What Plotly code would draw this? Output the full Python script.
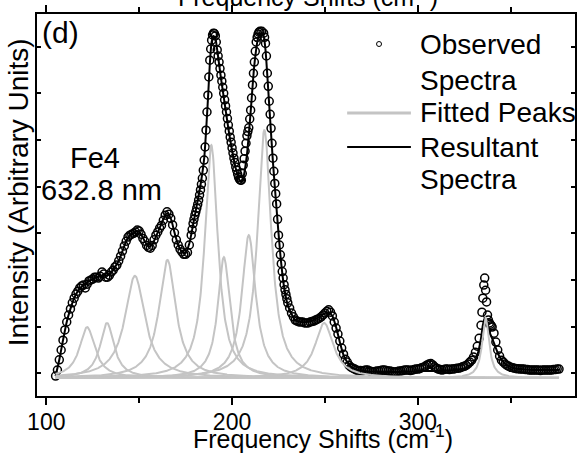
import plotly.graph_objects as go
import numpy as np

# ---------------- data ----------------
# Observed spectrum: frequency (cm-1) and intensity (arbitrary units)
obs_x = [105,106,107,108,109,110,111,112,113,114,115,116,117,118,119,120,121,122,123,124,
         125,126,127,128,129,130,131,132,133,134,135,136,137,138,139,140,141,142,143,144,
         145,146,147,148,149,150,151,152,153,154,155,156,157,158,159,160,161,162,163,164,
         165,166,167,168,169,170,171,172,173,174,175,176,177,
         178,178.5,179,179.5,180,180.5,181,181.5,182,182.5,183,183.5,184,184.5,185,185.5,
         186,186.5,187,187.5,188,188.5,189,189.5,190,190.5,191,191.5,192,192.5,193,193.5,
         194,194.5,195,195.5,196,196.5,197,197.5,198,198.5,199,199.5,200,200.5,201,201.5,
         202,202.5,203,203.5,204,204.5,205,205.5,206,206.5,207,207.5,208,208.5,209,209.5,
         210,210.5,211,211.5,212,212.5,213,213.5,214,214.5,215,216,217,217.5,218,218.5,
         219,219.5,220,220.5,221,221.5,222,222.5,223,223.5,224,224.5,225,225.5,226,226.5,
         227,227.5,228,228.5,229,229.5,230,231,232,233,234,235,
         236,237,238,239,240,241,242,243,244,245,246,247,248,249,250,251,252,253,254,255,
         256,257,258,259,260,261,262,263,264,265,266,267,268,269,270,271,272,273,274,275,
         276,277,278,279,280,281,282,283,284,285,286,287,288,289,290,291,292,293,294,295,
         296,297,298,299,300,301,302,303,304,305,306,307,308,309,310,311,312,313,314,315,
         316,317,318,319,320,321,322,323,324,325,326,327,328,329,330,331,332,333,334,334.5,
         335,335.5,336,336.5,337,337.5,338,338.5,339,339.5,340,341,342,343,344,345,346,347,
         348,349,350,351,352,353,354,355,356,357,358,359,360,361,362,363,364,365,366,367,
         368,369,370,371,372,373,374,375,376]
obs_y = [-0.06,0.07,0.29,0.50,0.71,0.93,1.10,1.25,1.38,1.51,1.61,1.70,1.76,1.83,1.87,1.89,1.83,1.91,1.98,2.00,
         2.02,2.06,2.06,2.04,2.08,2.17,2.13,2.06,2.06,2.10,2.17,2.21,2.28,2.32,2.41,2.51,2.62,2.73,2.83,2.92,
         2.96,2.98,3.00,3.03,3.07,3.05,2.98,2.89,2.83,2.74,2.70,2.68,2.74,2.86,2.96,3.03,3.11,3.17,3.28,3.39,
         3.46,3.41,3.32,3.18,3.01,2.86,2.75,2.66,2.60,2.55,2.55,2.59,2.75,
         2.96,3.08,3.21,3.30,3.39,3.46,3.54,3.62,3.71,3.82,3.93,4.05,4.18,4.35,4.57,4.85,
         5.21,5.60,5.96,6.35,6.71,6.95,7.14,7.25,7.29,7.28,7.23,7.10,6.93,6.80,6.67,6.53,
         6.39,6.26,6.13,6.00,5.86,5.73,5.60,5.46,5.32,5.19,5.06,4.95,4.83,4.72,4.61,4.52,
         4.42,4.35,4.27,4.20,4.16,4.14,4.14,4.28,4.46,4.60,4.76,4.93,5.09,5.18,5.26,5.45,
         5.64,5.90,6.18,6.43,6.67,6.90,7.10,7.20,7.27,7.31,7.33,7.33,7.29,7.20,7.07,6.80,
         6.43,6.15,5.83,5.55,5.25,4.93,4.61,4.33,4.07,3.85,3.63,3.30,2.96,2.75,2.54,2.35,
         2.18,2.04,1.90,1.79,1.69,1.60,1.51,1.40,1.29,1.21,1.14,1.12,
         1.10,1.10,1.10,1.08,1.08,1.08,1.10,1.11,1.12,1.14,1.16,1.18,1.21,1.25,1.29,1.33,1.36,1.31,1.23,1.10,
         0.97,0.84,0.69,0.54,0.41,0.30,0.24,0.17,0.13,0.11,0.09,0.07,0.05,0.06,0.05,0.06,0.07,0.07,0.05,0.04,
         0.03,0.04,0.05,0.05,0.06,0.07,0.07,0.06,0.05,0.05,0.04,0.03,0.03,0.04,0.05,0.05,0.06,0.07,0.07,0.07,
         0.06,0.07,0.08,0.09,0.09,0.10,0.12,0.13,0.15,0.18,0.20,0.21,0.18,0.14,0.11,0.09,0.08,0.07,0.08,0.09,
         0.09,0.08,0.09,0.09,0.10,0.11,0.11,0.12,0.14,0.15,0.17,0.20,0.24,0.28,0.35,0.45,0.58,0.75,1.03,1.31,
         1.61,1.89,2.04,1.78,1.53,1.25,1.14,1.08,1.05,1.02,0.99,0.86,0.67,0.50,0.37,0.28,0.24,0.20,
         0.17,0.15,0.13,0.12,0.11,0.10,0.10,0.09,0.09,0.09,0.08,0.08,0.07,0.07,0.07,0.07,0.07,0.07,0.06,0.07,
         0.07,0.07,0.07,0.07,0.07,0.08,0.08,0.09,0.09]

# Resultant (fitted sum) spectrum
res_x = [105,107,109,111,113,115,117,119,121,123,125,127,129,131,133,135,137,139,141,143,
         145,147,149,151,153,155,157,159,161,163,165,167,169,171,173,175,177,179,181,183,
         185,187,188,189,190,191,192,194,196,198,200,202,204,205,206,208,210,212,214,215,
         216,217,218,220,222,224,226,228,230,232,234,237,240,244,248,250,252,254,256,258,
         260,262,265,270,280,290,300,310,320,326,330,332,334,335,336,337,338,339,340,342,
         344,347,350,355,365,376]
res_y = [-0.06,0.29,0.71,1.10,1.38,1.61,1.76,1.85,1.91,1.98,2.02,2.06,2.08,2.10,2.10,2.17,2.28,2.41,2.62,2.83,
         2.96,3.00,3.05,2.98,2.83,2.72,2.76,2.93,3.11,3.30,3.43,3.32,3.02,2.75,2.60,2.58,2.78,3.18,3.60,4.03,
         4.61,5.86,6.61,7.10,7.23,7.18,6.93,6.33,5.79,5.25,4.78,4.39,4.14,4.10,4.18,4.68,5.60,6.61,7.18,7.27,
         7.29,7.23,6.93,5.75,4.53,3.50,2.54,1.85,1.46,1.27,1.14,1.10,1.10,1.14,1.23,1.29,1.31,1.23,0.99,0.67,
         0.39,0.24,0.11,0.05,0.03,0.03,0.05,0.05,0.07,0.11,0.24,0.39,0.75,1.03,1.18,1.14,0.97,0.84,0.75,0.54,
         0.35,0.20,0.13,0.09,0.07,0.07]

# Fitted Lorentzian peaks: centre (cm-1), height, FWHM (cm-1)
peak_centers = [122.0, 132.7, 147.7, 165.2, 188.8, 195.6, 209.0, 217.4, 249.6, 336.5]
peak_heights = [1.09, 1.18, 2.19, 2.53, 4.99, 2.59, 3.06, 5.31, 1.18, 1.29]
peak_fwhm    = [10.0, 9.0, 13.0, 11.0, 8.6, 8.0, 9.0, 9.0, 12.0, 4.5]
peak_base = -0.10
fit_x = np.linspace(105, 376, 1200)

x_ticks = [100, 200, 300]

# ---------------- figure ----------------
FONT = "Liberation Sans, Arial, sans-serif"
GRAY = "#c4c4c4"

fig = go.Figure()

fig.add_trace(go.Scatter(
    x=obs_x, y=obs_y, mode="markers",
    marker=dict(symbol="circle-open", size=8, color="black", line=dict(width=1.5, color="black")),
    showlegend=False, hoverinfo="skip"))

fig.add_trace(go.Scatter(
    x=res_x, y=res_y, mode="lines", line=dict(color="black", width=2, shape="spline", smoothing=0.6),
    showlegend=False, hoverinfo="skip"))

for c, h, w in zip(peak_centers, peak_heights, peak_fwhm):
    yy = peak_base + h / (1 + ((fit_x - c) / (w / 2)) ** 2)
    fig.add_trace(go.Scatter(x=fit_x, y=yy, mode="lines",
                             line=dict(color=GRAY, width=2),
                             showlegend=False, hoverinfo="skip"))

# plot-area geometry in pixels (for placing text)
L, R, T, B = 36.7, 576.7, 14.0, 396.0
W, H = R - L, B - T
def px(xp):
    return (xp - L) / W
def py(yp):
    return (B - yp) / H

fig.update_layout(
    width=579, height=455,
    margin=dict(l=L, r=579 - R, t=T, b=455 - B),
    paper_bgcolor="white", plot_bgcolor="white",
    font=dict(family=FONT, color="black"),
    showlegend=False,
    xaxis=dict(range=[95.0, 384.6], tickvals=x_ticks, ticktext=[str(v) for v in x_ticks],
               ticks="outside", ticklen=7, tickwidth=1.5, tickcolor="black",
               ticklabelstandoff=-3,
               minor=dict(dtick=50, tick0=0, ticks="outside", ticklen=5, tickwidth=1.5, tickcolor="black"),
               showline=True, linewidth=2, linecolor="black", mirror="ticks",
               showgrid=False, zeroline=False,
               tickfont=dict(size=23, family=FONT, color="black")),
    yaxis=dict(range=[-0.486, 7.70], dtick=1, tick0=0,
               ticks="inside", ticklen=4, tickwidth=1.5, tickcolor="black",
               showticklabels=False,
               showline=True, linewidth=2, linecolor="black", mirror="ticks",
               showgrid=False, zeroline=False),
)

title_txt = "Frequency Shifts (cm<sup>-1</sup>)"
ann = [
    dict(text=title_txt, x=px(323.5), y=py(455), xanchor="center", yanchor="bottom", font=dict(size=25)),
    dict(text=title_txt, x=px(308.5), y=py(-5), xanchor="center", yanchor="middle", font=dict(size=25)),
    dict(text="Intensity (Arbitrary Units)", x=px(18), y=py(192), xanchor="center", yanchor="middle",
         textangle=-90, font=dict(size=28)),
    dict(text="(d)", x=px(40), y=py(33), xanchor="left", yanchor="middle", font=dict(size=30)),
    dict(text="Fe4", x=px(95), y=py(158), xanchor="center", yanchor="middle", font=dict(size=29)),
    dict(text="632.8 nm", x=px(39), y=py(190), xanchor="left", yanchor="middle", font=dict(size=29)),
    dict(text="Observed", x=px(419), y=py(44), xanchor="left", yanchor="middle", font=dict(size=28)),
    dict(text="Spectra", x=px(419), y=py(80), xanchor="left", yanchor="middle", font=dict(size=28)),
    dict(text="Fitted Peaks", x=px(419), y=py(113), xanchor="left", yanchor="middle", font=dict(size=28)),
    dict(text="Resultant", x=px(419), y=py(147), xanchor="left", yanchor="middle", font=dict(size=28)),
    dict(text="Spectra", x=px(419), y=py(180), xanchor="left", yanchor="middle", font=dict(size=28)),
]
for a in ann:
    a.update(xref="paper", yref="paper", showarrow=False)
fig.update_layout(annotations=ann)

shapes = [
    dict(type="circle", xref="paper", yref="paper", x0=px(377.5), x1=px(382.5), y0=py(46.5), y1=py(41.5),
         line=dict(color="black", width=1)),
    dict(type="line", xref="paper", yref="paper", x0=px(348), x1=px(412), y0=py(113), y1=py(113),
         line=dict(color=GRAY, width=3)),
    dict(type="line", xref="paper", yref="paper", x0=px(348), x1=px(412), y0=py(147), y1=py(147),
         line=dict(color="black", width=2)),
]
fig.update_layout(shapes=shapes)

fig.write_html("out.html")
